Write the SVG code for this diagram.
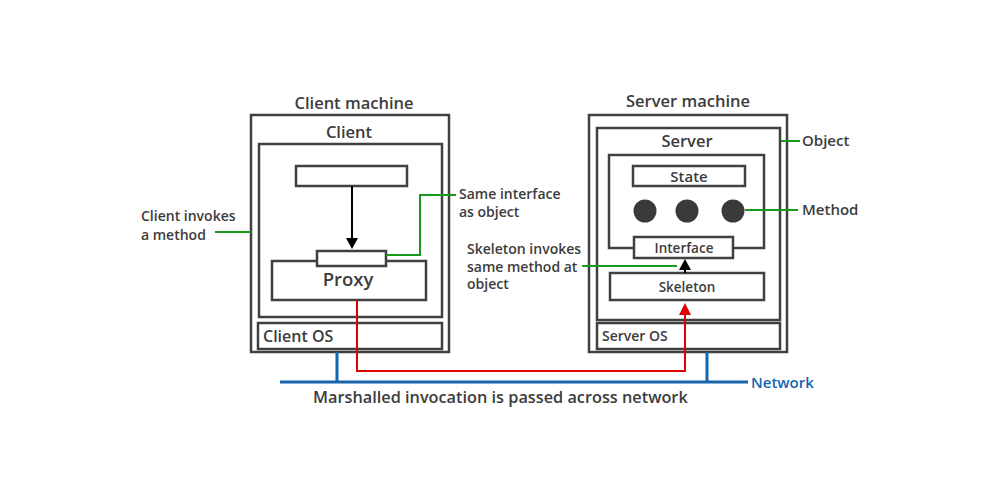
<svg xmlns="http://www.w3.org/2000/svg" width="1000" height="500" viewBox="0 0 1000 500">
<style>
.box{fill:#fff;stroke:#404040;stroke-width:2.5}
.t{font-family:"Open Sans","DejaVu Sans",sans-serif;font-weight:600;fill:#3c3c3c}
.c{text-anchor:middle}
.g{fill:none;stroke:#1a9a1a;stroke-width:2}
.r{fill:none;stroke:#e00000;stroke-width:2}
.b{fill:none;stroke:#1565b0;stroke-width:3}
</style>
<rect width="1000" height="500" fill="#fff"/>
<g id="client-machine">
<rect class="box" x="251" y="115" width="198" height="237"/>
<text class="t c" x="354" y="109" font-size="16.5">Client machine</text>
</g>
<g id="client">
<rect class="box" x="259" y="144" width="183" height="173"/>
<text class="t c" x="349" y="138" font-size="16.5">Client</text>
<rect class="box" x="296" y="166" width="111" height="20"/>
</g>
<g id="proxy">
<rect class="box" x="272" y="261" width="154" height="39"/>
<rect class="box" x="317" y="251" width="69" height="15"/>
<text class="t c" x="348" y="286" font-size="18.5">Proxy</text>
</g>
<g id="client-os">
<rect class="box" x="258" y="323" width="184" height="26"/>
<text class="t" x="263" y="342" font-size="16">Client OS</text>
</g>
<g id="server-machine">
<rect class="box" x="589" y="115" width="198" height="237"/>
<text class="t c" x="688" y="107" font-size="16.5">Server machine</text>
</g>
<g id="server">
<rect class="box" x="597" y="128" width="183" height="192"/>
<text class="t c" x="687" y="147" font-size="16.5">Server</text>
</g>
<g id="object">
<rect class="box" x="609" y="155" width="155" height="93"/>
<rect class="box" x="633" y="166" width="112" height="20"/>
<text class="t c" x="689" y="182" font-size="15">State</text>
<circle cx="645" cy="211" r="11.5" fill="#3a3a3a"/>
<circle cx="687" cy="211" r="11.5" fill="#3a3a3a"/>
<circle cx="733" cy="211" r="11.5" fill="#3a3a3a"/>
</g>
<g id="interface">
<rect class="box" x="634" y="237" width="99" height="21"/>
<text class="t c" x="684" y="253" font-size="13.5">Interface</text>
</g>
<g id="skeleton">
<rect class="box" x="610" y="273" width="154" height="27"/>
<text class="t c" x="687" y="292" font-size="13.5">Skeleton</text>
</g>
<g id="server-os">
<rect class="box" x="597" y="323" width="183" height="26"/>
<text class="t" x="602" y="341" font-size="14">Server OS</text>
</g>
<g id="connectors">
<line x1="352" y1="186" x2="352" y2="239" stroke="#000" stroke-width="2"/>
<polygon points="346,238 358,238 352,249" fill="#000"/>
<line x1="685" y1="273" x2="685" y2="268" stroke="#000" stroke-width="2"/>
<polygon points="679,270 691,270 685,259" fill="#000"/>
<path class="r" d="M357 300 V371 H685 V313"/>
<polygon points="679,315 691,315 685,303" fill="#e00000"/>
<path class="b" d="M280 382 H748 M337 352 V382 M707 352 V382"/>
<path class="g" d="M215 232 H251"/>
<path class="g" d="M386 255 H420 V195 H456"/>
<path class="g" d="M582 266 H677"/>
<path class="g" d="M781 141 H800"/>
<path class="g" d="M745 210 H798"/>
</g>
<g id="labels">
<text class="t" x="141" y="221" font-size="14">Client invokes</text>
<text class="t" x="141" y="240" font-size="14">a method</text>
<text class="t" x="459" y="199" font-size="14">Same interface</text>
<text class="t" x="459" y="217" font-size="14">as object</text>
<text class="t" x="467" y="254" font-size="14">Skeleton invokes</text>
<text class="t" x="467" y="272" font-size="14">same method at</text>
<text class="t" x="467" y="289" font-size="14">object</text>
<text class="t" x="802" y="146" font-size="15">Object</text>
<text class="t" x="802" y="215" font-size="15">Method</text>
<text class="t" x="751" y="388" font-size="15" style="fill:#1565b0">Network</text>
<text class="t" x="313" y="403" font-size="16.3">Marshalled invocation is passed across network</text>
</g>
</svg>
